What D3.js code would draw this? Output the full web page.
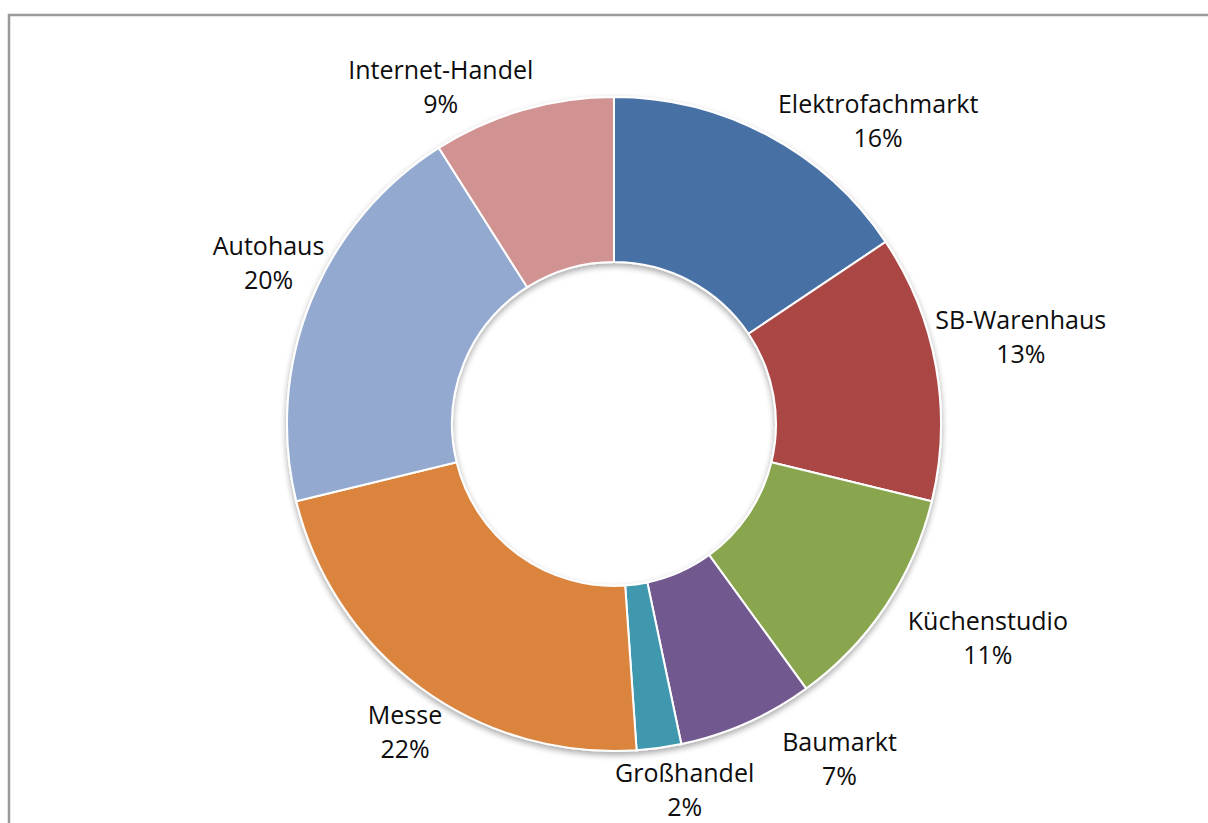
<!DOCTYPE html>
<html><head><meta charset="utf-8">
<script src="https://cdn.jsdelivr.net/npm/d3@7"></script>
<style>html,body{margin:0;padding:0;background:#fff;overflow:hidden}</style>
</head><body>
<svg id="c" width="1208" height="823"></svg>
<script>
const categories = ["Elektrofachmarkt","SB-Warenhaus","Küchenstudio","Baumarkt","Großhandel","Messe","Autohaus","Internet-Handel"];
const values = [15.6, 13.2, 11.2, 6.7, 2.2, 22.3, 19.8, 9.0];
const percentLabels = ["16%","13%","11%","7%","2%","22%","20%","9%"];
const colors = ["#4771A5","#AA4644","#89A54E","#71588F","#4198AF","#DB843D","#93A9CF","#D19392"];

// label layout (angle shift in degrees from slice mid-angle, distance from centre)
const labelLayout = {
  dAngle: [13, -2, -4, -10, -3, -2, 3, -11],
  radius: [402, 416, 431, 404, 373, 372, 381, 379]
};

const svg = d3.select("#c");
const cx = 614, cy = 424, rOuter = 327, rInner = 162;

svg.append("rect").attr("x", 9).attr("y", 15).attr("width", 1260).attr("height", 900)
  .attr("fill", "#fff").attr("stroke", "#999").attr("stroke-width", 2.5);

const defs = svg.append("defs");
const f = defs.append("filter").attr("id","sh").attr("x","-20%").attr("y","-20%").attr("width","140%").attr("height","140%");
f.append("feGaussianBlur").attr("in","SourceAlpha").attr("stdDeviation",3).attr("result","b");
f.append("feOffset").attr("in","b").attr("dx",0).attr("dy",3).attr("result","o");
f.append("feComponentTransfer").attr("in","o").attr("result","o2").append("feFuncA").attr("type","linear").attr("slope",0.35);
const fm = f.append("feMerge"); fm.append("feMergeNode").attr("in","o2"); fm.append("feMergeNode").attr("in","SourceGraphic");

const data = categories.map((c,i)=>({name:c, value:values[i], label:percentLabels[i], color:colors[i], i}));
const pie = d3.pie().value(d=>d.value).sort(null);
const arc = d3.arc().innerRadius(rInner).outerRadius(rOuter);
const g = svg.append("g").attr("transform",`translate(${cx},${cy})`);
g.append("g").attr("filter","url(#sh)").selectAll("path").data(pie(data)).join("path")
  .attr("d", arc).attr("fill", d=>d.data.color).attr("stroke","#fff").attr("stroke-width",2);

const lbl = g.selectAll("text.l").data(pie(data)).join("text").attr("class","l")
  .attr("font-family","'Open Sans', Lato, sans-serif").attr("font-size",25).attr("fill","#0d0d0d")
  .attr("text-anchor","middle")
  .attr("transform", d=>{
    const a = (d.startAngle+d.endAngle)/2 + labelLayout.dAngle[d.data.i]*Math.PI/180;
    const r = labelLayout.radius[d.data.i];
    return `translate(${r*Math.sin(a)},${-r*Math.cos(a)})`;
  });
lbl.append("tspan").attr("x",0).attr("y",-8).text(d=>d.data.name);
lbl.append("tspan").attr("x",0).attr("y",26).text(d=>d.data.label);
</script>
</body></html>
